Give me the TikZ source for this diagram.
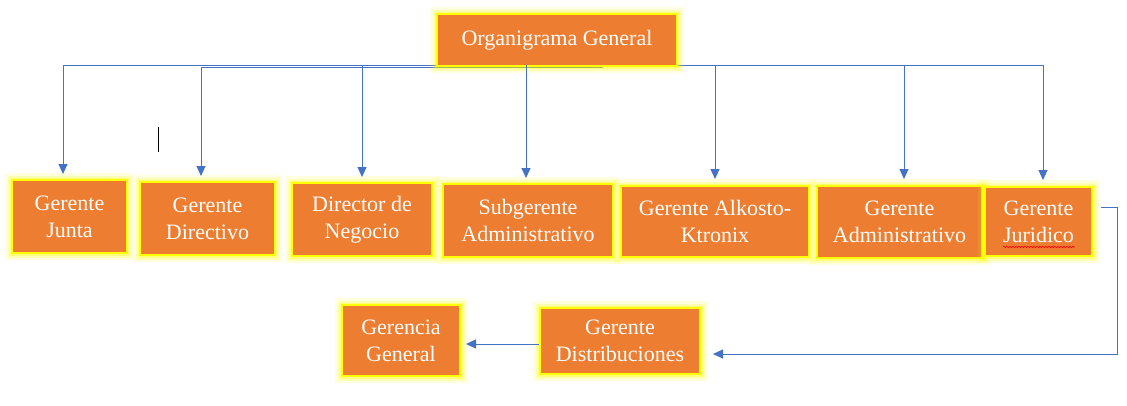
\documentclass[tikz,border=0pt]{standalone}
\usepackage{fontspec}
\setmainfont{Liberation Serif}
\usetikzlibrary{arrows.meta,decorations.pathmorphing}
\definecolor{boxfill}{HTML}{ED7D31}
\definecolor{conn}{HTML}{4472C4}
\definecolor{glowyel}{HTML}{FFFF00}
\tikzset{
  orgbox/.style={draw=glowyel, line width=2pt, fill=boxfill, text=white,
    align=center, inner sep=0pt,
    font=\fontsize{22}{27}\selectfont,
    preaction={draw=glowyel, draw opacity=0.12, line width=14pt},
    preaction={draw=glowyel, draw opacity=0.2, line width=9pt},
    preaction={draw=glowyel, draw opacity=0.3, line width=5pt}},
  link/.style={draw=conn, line width=1pt},
  arr/.style={link, -{Triangle[length=10pt,width=9pt]}}
}
\begin{document}
\begin{tikzpicture}[x=1pt,y=-1pt]
\useasboundingbox (0,0) rectangle (1127,405);
% bus lines (drawn first, beneath the top box)
\coordinate (b1) at (63,65);
\coordinate (b2) at (201,67);
\coordinate (b3) at (362,65);
\coordinate (b4) at (526,65);
\coordinate (b5) at (715,65);
\coordinate (b6) at (904,65);
\coordinate (b7) at (1043,65);
\coordinate (b2end) at (603,67);
\draw[link] (b1) -- (b7);
\draw[link] (b2) -- (b2end);

\node[orgbox, minimum width=240pt, minimum height=52pt] (top) at (557,40) {Organigrama General};

\node[orgbox, minimum width=115pt, minimum height=73pt] (junta) at (69.5,216.5) {Gerente\\Junta};
\node[orgbox, minimum width=135pt, minimum height=73pt] (directivo) at (207.5,218.5) {Gerente\\Directivo};
\node[orgbox, minimum width=140pt, minimum height=73pt] (director) at (362,219.5) {Director de\\Negocio};
\node[orgbox, minimum width=170pt, minimum height=73pt] (subgerente) at (528,220.5) {Subgerente\\Administrativo};
\node[orgbox, minimum width=188pt, minimum height=71pt] (alkosto) at (715,221.5) {Gerente Alkosto-\\Ktronix};
\node[orgbox, minimum width=165pt, minimum height=72pt] (admin) at (899.5,222) {Gerente\\Administrativo};
\node[orgbox, minimum width=107pt, minimum height=69pt] (juridico) at (1038.5,221.5) {Gerente\\Juridico};
\node[orgbox, minimum width=160pt, minimum height=66pt] (distrib) at (620,341) {Gerente\\Distribuciones};
\node[orgbox, minimum width=118pt, minimum height=71pt] (gerencia) at (401,340.5) {Gerencia\\General};

% drops with arrows
\draw[arr, shorten >=5pt] (b1) -- (b1 |- junta.north);
\draw[arr, shorten >=5pt] (b2) -- (b2 |- directivo.north);
\draw[arr, shorten >=5pt] (b3) -- (b3 |- director.north);
\draw[arr, shorten >=5pt] (b4) -- (b4 |- subgerente.north);
\draw[arr, shorten >=6pt] (b5) -- (b5 |- alkosto.north);
\draw[arr, shorten >=6pt] (b6) -- (b6 |- admin.north);
\draw[arr, shorten >=6pt] (b7) -- (b7 |- juridico.north);

% juridico -> distribuciones
\coordinate (jr) at (1117,207);
\coordinate (jb) at (1117,354);
\draw[arr, shorten >=12pt] ([xshift=8pt]juridico.east |- jr) -- (jr) -- (jb) -- (jb -| distrib.east);
% distribuciones -> gerencia
\coordinate (dg) at (540,344);
\draw[arr, shorten >=5pt] (dg -| distrib.west) -- (dg -| gerencia.east);

% spell-check underline and text cursor
\draw[red, line width=0.6pt, decorate, decoration={snake, amplitude=0.8pt, segment length=3pt}] (1003,247) -- (1075,247);
\coordinate (cur1) at (158,127);
\coordinate (cur2) at (158,152);
\draw[black, line width=1pt] (cur1) -- (cur2);
\end{tikzpicture}
\end{document}
